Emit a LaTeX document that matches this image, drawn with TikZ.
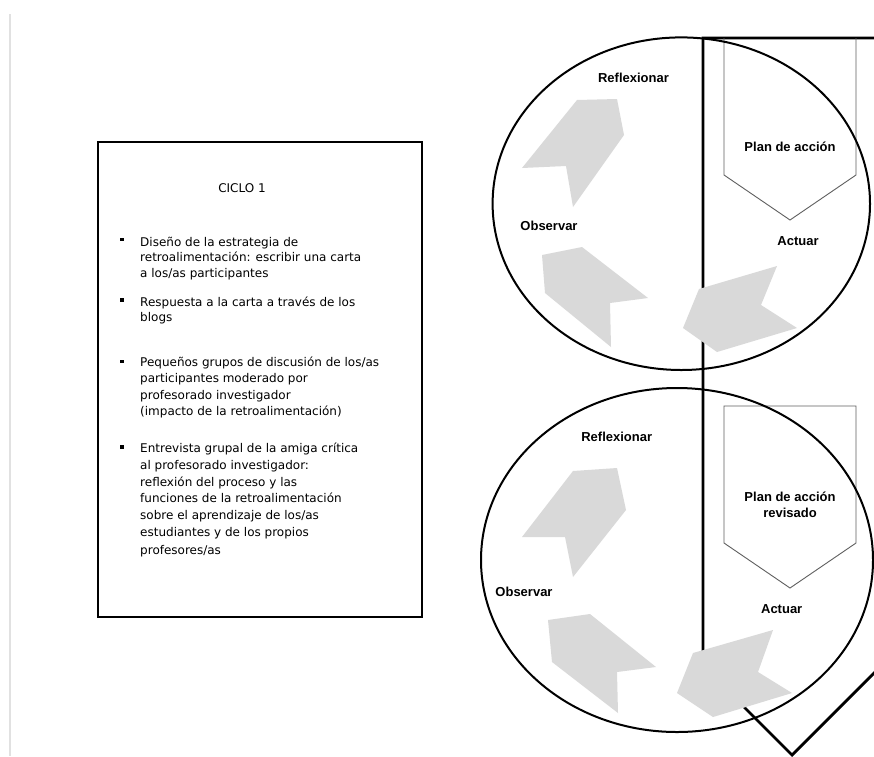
\documentclass[tikz,border=0pt]{standalone}
\usepackage{fontspec}
\setmainfont{DejaVu Sans}
\newfontfamily\lblfont{Liberation Sans}
\definecolor{arrowgray}{RGB}{217,217,217}
\definecolor{pentgray}{RGB}{95,95,95}
\definecolor{edgegray}{RGB}{225,225,225}
\tikzset{
  boxtxt/.style={inner sep=0pt, anchor=base west, font=\fontsize{12}{14}\selectfont},
  lbl/.style={inner sep=0pt, anchor=base, font=\lblfont\bfseries\fontsize{13}{15.6}\selectfont, align=center},
  bsq/.style={fill=black, draw=none, minimum size=3.4pt, inner sep=0pt},
  grayarrow/.style={fill=arrowgray, draw=none},
  bigline/.style={line width=2.8pt, line join=miter},
  circ/.style={line width=2pt},
  pent/.style={draw=pentgray, line width=0.9pt}
}
\begin{document}
\begin{tikzpicture}[x=1pt,y=-1pt]
\useasboundingbox (0,0) rectangle (874,756);
\fill[white] (0,0) rectangle (874,756);
\clip (0,0) rectangle (874,756);

% faint page edge line
\draw[edgegray, line width=1.5pt] (10,14) -- (10,756);

% left box
\draw[line width=2.4pt] (98,142) rectangle (422,617);
\node[inner sep=0pt, anchor=base, font=\fontsize{12}{14}\selectfont] (ciclo) at (242,192.5) {CICLO 1};

\node[bsq] (s1) at (122,239.5) {};
\node[boxtxt] (t1) at (140,246) {Diseño de la estrategia de};
\node[boxtxt] (t2) at (140,261.5) {retroalimentación: escribir una carta};
\node[boxtxt] (t3) at (140,277) {a los/as participantes};

\node[bsq] (s2) at (122,300) {};
\node[boxtxt] (t4) at (140,306) {Respuesta a la carta a través de los};
\node[boxtxt] (t5) at (140,321) {blogs};

\node[bsq] (s3) at (122,361.5) {};
\node[boxtxt] (t6) at (140,366) {Pequeños grupos de discusión de los/as};
\node[boxtxt] (t7) at (140,382) {participantes moderado por};
\node[boxtxt] (t8) at (140,399) {profesorado investigador};
\node[boxtxt] (t9) at (140,415) {(impacto de la retroalimentación)};

\node[bsq] (s4) at (122,447) {};
\node[boxtxt] (t10) at (140,452) {Entrevista grupal de la amiga crítica};
\node[boxtxt] (t11) at (140,469) {al profesorado investigador:};
\node[boxtxt] (t12) at (140,486) {reflexión del proceso y las};
\node[boxtxt] (t13) at (140,502) {funciones de la retroalimentación};
\node[boxtxt] (t14) at (140,519) {sobre el aprendizaje de los/as};
\node[boxtxt] (t15) at (140,536) {estudiantes y de los propios};
\node[boxtxt] (t16) at (140,554) {profesores/as};

% big chevron outline
\draw[bigline] (884,38) -- (703,38) -- (703,666) -- (792,755) -- (881,666) -- (881,38);

% small pentagons
\draw[pent] (724,38) -- (724,175) -- (790,220) -- (856,175) -- (856,38);
\draw[pent] (724,406) -- (724,543) -- (790,588) -- (856,543) -- (856,406) -- cycle;

% gray arrows, top cycle
\fill[grayarrow] (522,168) -- (577,100) -- (617,99) -- (624,135) -- (573,207) -- (566,166) -- cycle;
\fill[grayarrow] (542,255) -- (582,247) -- (648,298) -- (610,303) -- (611,347) -- (545,293) -- cycle;
\fill[grayarrow] (699,289) -- (777,266) -- (761,305) -- (797,328) -- (717,352) -- (683,328) -- cycle;

% gray arrows, bottom cycle
\fill[grayarrow] (522,537) -- (573,471) -- (617,468) -- (626,510) -- (573,577) -- (565,537) -- cycle;
\fill[grayarrow] (548,620) -- (590,614) -- (656,667) -- (617,672) -- (618,713) -- (552,662) -- cycle;
\fill[grayarrow] (693,653) -- (773,630) -- (758,672) -- (792,693) -- (713,717) -- (677,693) -- cycle;

% circles
\draw[circ] (681.3,203.7) ellipse [x radius=188.7, y radius=166.3];
\draw[circ] (677,560) ellipse [x radius=196, y radius=172];

% labels top
\node[lbl] (refl1) at (633.5,82.7) {Reflexionar};
\node[lbl] (plan1) at (790,151.7) {Plan de acción};
\node[lbl] (obs1) at (549,230) {Observar};
\node[lbl] (act1) at (798,245) {Actuar};

% labels bottom
\node[lbl] (refl2) at (616.7,441.7) {Reflexionar};
\node[lbl, anchor=base] (plan2) at (790,501.7) {Plan de acción};
\node[lbl] (plan2b) at (790,517.3) {revisado};
\node[lbl] (obs2) at (524,596) {Observar};
\node[lbl] (act2) at (781.7,613.3) {Actuar};
\end{tikzpicture}
\end{document}
